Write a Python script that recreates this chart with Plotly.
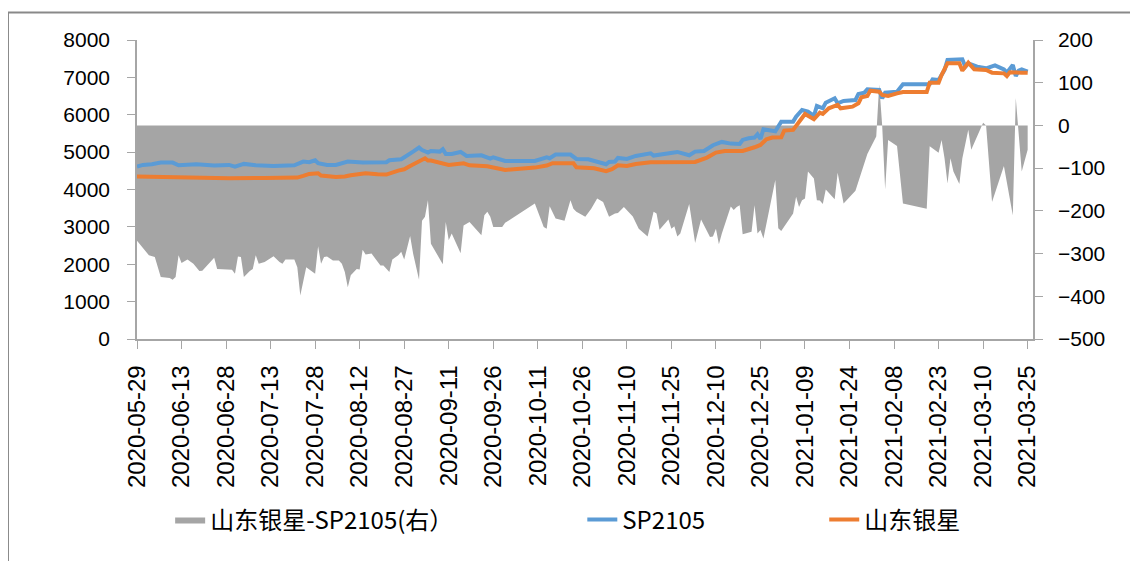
import plotly.graph_objects as go
import pandas as pd

START = pd.Timestamp("2020-05-29")

# spread: 山东银星-SP2105 (right axis); days since 2020-05-29
spread_days = [0, 2, 4, 6, 8, 11, 12, 13, 14, 15, 17, 19, 21, 22, 26, 27, 32, 33, 34, 35, 36, 38, 39, 40, 41, 43,
               46, 48, 49, 50, 53, 54, 55, 57, 60, 61, 62, 63, 64, 66, 68, 69, 70, 71, 72, 74, 75, 76, 77, 79, 82, 83,
               85, 86, 88, 89, 90, 92, 93, 95, 96, 97, 98, 99, 103, 104, 105, 106, 109, 110, 112, 116, 117, 118, 119,
               120, 123, 124, 134, 137, 138, 139, 141, 144, 146, 147, 148, 151, 153, 155, 157, 159, 161, 162, 164,
               167, 169, 172, 174, 175, 176, 179, 180, 181, 182, 183, 186, 188, 190, 193, 194, 195, 196, 197, 200,
               201, 202, 203, 204, 207, 208, 209, 210, 211, 215, 216, 217, 221, 222, 223, 224, 225, 226, 228, 229,
               230, 231, 232, 235, 236, 238, 242, 244, 245, 246, 249, 250, 251, 252, 253, 256, 258, 266, 267, 270,
               271, 272, 273, 274, 275, 277, 278, 280, 281, 285, 286, 288, 292, 295, 296, 298, 300]
spread_vals = [-270, -288, -304, -308, -355, -357, -361, -355, -304, -322, -314, -324, -341, -340, -310, -336, -338,
               -347, -307, -308, -355, -341, -336, -304, -324, -320, -306, -320, -324, -314, -314, -332, -398, -332,
               -347, -283, -324, -308, -307, -316, -316, -324, -343, -379, -351, -336, -337, -291, -302, -300, -328,
               -328, -343, -314, -304, -296, -314, -259, -300, -361, -223, -214, -175, -277, -325, -226, -269, -253,
               -299, -234, -226, -257, -210, -202, -214, -238, -238, -228, -183, -238, -242, -189, -218, -223, -175,
               -195, -202, -214, -195, -171, -179, -214, -206, -205, -191, -213, -242, -260, -202, -206, -244, -220,
               -242, -236, -260, -253, -184, -275, -220, -261, -260, -242, -278, -253, -190, -198, -191, -187, -255,
               -249, -187, -253, -245, -265, -128, -241, -247, -206, -167, -191, -175, -171, -108, -124, -175, -176,
               -184, -150, -173, -111, -183, -153, -112, -92, -67, -26, 96, 0, -150, -34, -48, -183, -195, -49, -64,
               -34, -77, -136, -77, -108, -137, -77, -10, -57, 6, 0, -179, -95, -210, 64, -108, -57]

# SP2105 (left axis)
sp_days = [0, 2, 5, 8, 12, 14, 20, 26, 31, 33, 36, 40, 46, 53, 56, 58, 60, 61, 64, 67, 71, 76, 84, 85, 89, 91, 93,
           95, 96, 98, 99, 102, 103, 104, 106, 109, 111, 116, 119, 120, 124, 134, 138, 139, 141, 146, 148, 152, 155,
           158, 159, 161, 162, 165, 168, 173, 174, 178, 182, 186, 188, 191, 194, 197, 200, 203, 204, 206, 208, 209,
           210, 211, 215, 217, 221, 222, 224, 226, 228, 229, 231, 232, 235, 236, 238, 242, 243, 245, 246, 250, 251,
           252, 256, 258, 267, 268, 270, 272, 273, 278, 279, 280, 283, 286, 289, 292, 293, 295, 296, 297, 298, 300]
sp_vals = [4613, 4657, 4676, 4720, 4720, 4648, 4676, 4640, 4658, 4613, 4685, 4648, 4631, 4648, 4746, 4729, 4782,
           4702, 4658, 4658, 4746, 4720, 4729, 4782, 4809, 4898, 5014, 5121, 5058, 4987, 5032, 5014, 5077, 4952,
           4952, 5005, 4898, 4916, 4827, 4862, 4764, 4764, 4862, 4836, 4934, 4934, 4818, 4809, 4746, 4675, 4738,
           4746, 4845, 4818, 4898, 4969, 4907, 4952, 5005, 4916, 5014, 5032, 5184, 5273, 5228, 5219, 5326, 5371,
           5389, 5478, 5353, 5612, 5557, 5816, 5816, 5950, 6128, 6083, 5968, 6235, 6173, 6324, 6440, 6306, 6369,
           6395, 6556, 6591, 6680, 6662, 6440, 6591, 6618, 6814, 6814, 6948, 6930, 7197, 7464, 7482, 7286, 7375,
           7286, 7242, 7322, 7215, 7126, 7331, 7037, 7180, 7215, 7153]

# 山东银星 (left axis)
sd_days = [0, 9, 20, 31, 43, 54, 56, 58, 61, 62, 67, 70, 72, 75, 77, 81, 84, 88, 90, 92, 94, 97, 98, 99, 105, 110,
           112, 118, 124, 134, 138, 140, 147, 148, 154, 158, 160, 162, 165, 168, 173, 177, 188, 192, 195, 198, 200,
           204, 208, 210, 212, 214, 217, 218, 221, 223, 225, 228, 230, 231, 233, 236, 237, 241, 243, 244, 246, 247,
           250, 251, 253, 256, 258, 266, 267, 270, 271, 273, 277, 278, 280, 282, 286, 288, 292, 293, 294, 298, 300]
sd_vals = [4346, 4328, 4319, 4302, 4310, 4319, 4364, 4417, 4435, 4372, 4337, 4346, 4381, 4417, 4435, 4408, 4399,
           4506, 4542, 4631, 4720, 4836, 4773, 4773, 4657, 4702, 4648, 4622, 4524, 4586, 4640, 4702, 4702, 4595,
           4568, 4488, 4542, 4648, 4631, 4684, 4729, 4738, 4738, 4854, 4987, 5032, 5040, 5032, 5130, 5193, 5344,
           5389, 5398, 5576, 5594, 5816, 6021, 5879, 6057, 6021, 6173, 6262, 6173, 6217, 6306, 6467, 6502, 6645,
           6618, 6529, 6502, 6573, 6609, 6609, 6859, 6859, 7064, 7375, 7375, 7180, 7393, 7215, 7197, 7126, 7108,
           7037, 7135, 7126, 7126]

tick_dates = pd.date_range("2020-05-29", "2021-03-25", freq="15D")
tick_text = [d.strftime("%Y-%m-%d") for d in tick_dates]


def to_dates(days):
    return [START + pd.Timedelta(days=d) for d in days]


FONT = "Liberation Sans"
CJK = "Noto Sans CJK SC"

fig = go.Figure()
fig.add_trace(go.Scatter(
    x=to_dates(spread_days), y=spread_vals, name="山东银星-SP2105(右）",
    mode="lines", line=dict(width=0, color="#A5A5A5"), fill="tozeroy", fillcolor="#A5A5A5",
    yaxis="y", legend="legend"))
fig.add_trace(go.Scatter(
    x=to_dates(sp_days), y=sp_vals, name="SP2105", mode="lines",
    line=dict(width=4, color="#5B9BD5"), yaxis="y2", legend="legend2"))
fig.add_trace(go.Scatter(
    x=to_dates(sd_days), y=sd_vals, name="山东银星", mode="lines",
    line=dict(width=4, color="#ED7D31"), yaxis="y2", legend="legend3"))

axis_col = "#A6A6A6"
leg_common = dict(orientation="h", yanchor="middle", y=-0.605, xanchor="left",
                  font=dict(family=CJK + ", " + FONT, size=24, color="#000000"),
                  bgcolor="rgba(0,0,0,0)")
tick_font = dict(family=FONT, size=21, color="#000000")

# page body has an 8px margin: figure is shifted by 8px right/down
fig.update_layout(
    width=1130, height=553,
    margin=dict(l=129, r=105, t=32, b=222),
    paper_bgcolor="white", plot_bgcolor="white",
    font=dict(family=FONT, size=20, color="#000000"),
    showlegend=True,
    legend=dict(x=0.037, **leg_common),
    legend2=dict(x=0.497, **leg_common),
    legend3=dict(x=0.767, **leg_common),
    xaxis=dict(
        type="date",
        range=[START, START + pd.Timedelta(hours=301.8 * 24)],
        tickvals=list(tick_dates), ticktext=tick_text, tickangle=-90,
        ticks="outside", ticklen=8, tickcolor=axis_col,
        showline=True, linecolor=axis_col, linewidth=1.5,
        showgrid=False, zeroline=False,
        tickfont=dict(family=FONT, size=24, color="#000000"),
        ticklabelstandoff=7,
    ),
    yaxis=dict(
        side="right", range=[-500, 200], dtick=100,
        ticks="outside", ticklen=8, tickcolor=axis_col,
        showline=True, linecolor=axis_col, linewidth=1.5,
        showgrid=False, zeroline=False,
        tickfont=tick_font,
        ticklabelstandoff=11,
    ),
    yaxis2=dict(
        side="left", overlaying="y", range=[0, 8000], dtick=1000,
        ticks="outside", ticklen=8, tickcolor=axis_col,
        showline=True, linecolor=axis_col, linewidth=1.5,
        showgrid=False, zeroline=False,
        tickfont=tick_font,
        ticklabelstandoff=13,
    ),
    shapes=[dict(type="rect", xref="paper", yref="paper",
                 x0=-0.144, x1=1.2, y0=-1.0, y1=1.092,
                 line=dict(color="#898989", width=2), fillcolor="rgba(0,0,0,0)", layer="below")],
)

fig.write_html("out.html")
